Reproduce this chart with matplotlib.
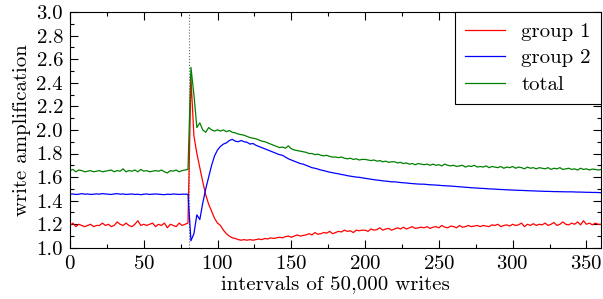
import numpy as np
import matplotlib
matplotlib.use("Agg")
import matplotlib.pyplot as plt
from matplotlib.ticker import MultipleLocator

# intervals (every 2nd interval sampled)
intervals = np.arange(0, 361, 2)

group1 = [
    1.19, 1.21, 1.18, 1.20, 1.19, 1.18, 1.19, 1.20, 1.18, 1.19,
    1.19, 1.21, 1.19, 1.20, 1.18, 1.19, 1.22, 1.20, 1.19, 1.21,
    1.19, 1.18, 1.20, 1.23, 1.19, 1.20, 1.19, 1.20, 1.21, 1.18,
    1.20, 1.19, 1.21, 1.17, 1.20, 1.19, 1.18, 1.21, 1.19, 1.20,
    1.21, 2.44, 1.95, 1.80, 1.68, 1.56, 1.45, 1.37, 1.31, 1.25,
    1.21, 1.19, 1.15, 1.12, 1.10, 1.085, 1.08, 1.07, 1.065, 1.07,
    1.065, 1.07, 1.065, 1.07, 1.075, 1.07, 1.08, 1.075, 1.085, 1.08,
    1.085, 1.09, 1.085, 1.095, 1.10, 1.09, 1.10, 1.11, 1.10, 1.105,
    1.11, 1.12, 1.11, 1.13, 1.115, 1.12, 1.13, 1.125, 1.14, 1.12,
    1.13, 1.14, 1.135, 1.15, 1.14, 1.145, 1.13, 1.15, 1.145, 1.15,
    1.15, 1.14, 1.16, 1.15, 1.155, 1.17, 1.15, 1.16, 1.165, 1.15,
    1.16, 1.17, 1.16, 1.175, 1.16, 1.17, 1.18, 1.165, 1.17, 1.175,
    1.17, 1.18, 1.165, 1.175, 1.18, 1.17, 1.19, 1.175, 1.17, 1.185,
    1.18, 1.17, 1.19, 1.175, 1.18, 1.19, 1.18, 1.185, 1.19, 1.18,
    1.19, 1.185, 1.18, 1.195, 1.19, 1.20, 1.18, 1.19, 1.195, 1.185,
    1.20, 1.19, 1.195, 1.21, 1.18, 1.20, 1.19, 1.205, 1.19, 1.20,
    1.195, 1.21, 1.19, 1.20, 1.215, 1.19, 1.20, 1.22, 1.20, 1.195,
    1.21, 1.20, 1.22, 1.195, 1.23, 1.20, 1.21, 1.195, 1.21, 1.20,
    1.20,
]

group2 = [
    1.455, 1.457, 1.453, 1.455, 1.46, 1.455, 1.457, 1.453, 1.455, 1.458,
    1.455, 1.46, 1.457, 1.455, 1.453, 1.457, 1.46, 1.455, 1.457, 1.453,
    1.455, 1.457, 1.453, 1.455, 1.451, 1.455, 1.457, 1.453, 1.455, 1.457,
    1.455, 1.453, 1.451, 1.455, 1.453, 1.457, 1.455, 1.453, 1.455, 1.455,
    1.455, 1.06, 1.12, 1.28, 1.24, 1.38, 1.50, 1.60, 1.70, 1.78,
    1.83, 1.86, 1.88, 1.89, 1.91, 1.92, 1.905, 1.90, 1.91, 1.90,
    1.895, 1.88, 1.885, 1.87, 1.86, 1.85, 1.84, 1.83, 1.82, 1.81,
    1.80, 1.79, 1.785, 1.77, 1.755, 1.745, 1.735, 1.725, 1.715, 1.71,
    1.70, 1.69, 1.68, 1.675, 1.668, 1.66, 1.655, 1.648, 1.642, 1.637,
    1.632, 1.628, 1.622, 1.618, 1.612, 1.608, 1.604, 1.60, 1.598, 1.594,
    1.59, 1.586, 1.582, 1.578, 1.575, 1.572, 1.568, 1.566, 1.563, 1.56,
    1.56, 1.557, 1.554, 1.552, 1.55, 1.547, 1.545, 1.543, 1.541, 1.54,
    1.54, 1.537, 1.535, 1.534, 1.532, 1.531, 1.528, 1.527, 1.525, 1.524,
    1.522, 1.52, 1.518, 1.516, 1.514, 1.512, 1.51, 1.508, 1.507, 1.505,
    1.504, 1.502, 1.50, 1.499, 1.498, 1.496, 1.495, 1.494, 1.492, 1.491,
    1.49, 1.489, 1.488, 1.487, 1.486, 1.485, 1.484, 1.483, 1.482, 1.481,
    1.48, 1.479, 1.479, 1.478, 1.477, 1.477, 1.476, 1.476, 1.475, 1.475,
    1.475, 1.474, 1.473, 1.473, 1.472, 1.471, 1.471, 1.47, 1.47, 1.469,
    1.468,
]

total = [
    1.655, 1.665, 1.645, 1.66, 1.655, 1.645, 1.65, 1.655, 1.645, 1.65,
    1.655, 1.645, 1.65, 1.655, 1.66, 1.645, 1.655, 1.65, 1.67, 1.645,
    1.655, 1.65, 1.66, 1.645, 1.665, 1.65, 1.655, 1.645, 1.65, 1.655,
    1.65, 1.66, 1.645, 1.635, 1.655, 1.65, 1.66, 1.645, 1.655, 1.66,
    1.665, 2.53, 2.30, 2.02, 2.06, 2.00, 1.98, 2.02, 2.00, 1.99,
    2.00, 1.99, 2.00, 1.985, 1.995, 1.98, 1.975, 1.965, 1.96, 1.955,
    1.945, 1.935, 1.93, 1.925, 1.915, 1.905, 1.90, 1.89, 1.88, 1.87,
    1.86, 1.85, 1.855, 1.845, 1.865, 1.84, 1.83, 1.825, 1.82, 1.815,
    1.81, 1.80, 1.80, 1.79, 1.795, 1.785, 1.78, 1.785, 1.775, 1.77,
    1.77, 1.765, 1.77, 1.76, 1.755, 1.76, 1.75, 1.755, 1.745, 1.75,
    1.75, 1.745, 1.74, 1.745, 1.735, 1.74, 1.73, 1.735, 1.725, 1.73,
    1.73, 1.72, 1.725, 1.715, 1.72, 1.71, 1.715, 1.705, 1.715, 1.71,
    1.705, 1.71, 1.70, 1.71, 1.70, 1.705, 1.695, 1.71, 1.70, 1.695,
    1.70, 1.69, 1.695, 1.70, 1.685, 1.695, 1.69, 1.70, 1.685, 1.69,
    1.685, 1.695, 1.68, 1.69, 1.685, 1.68, 1.69, 1.675, 1.685, 1.68,
    1.69, 1.675, 1.685, 1.68, 1.67, 1.685, 1.675, 1.68, 1.67, 1.68,
    1.675, 1.67, 1.68, 1.665, 1.675, 1.67, 1.68, 1.665, 1.67, 1.675,
    1.665, 1.67, 1.66, 1.675, 1.665, 1.67, 1.66, 1.668, 1.665, 1.66,
    1.665,
]

change_at = 81

plt.rcParams['font.family'] = 'cmr10'
plt.rcParams['mathtext.fontset'] = 'cm'
plt.rcParams['axes.formatter.use_mathtext'] = True
plt.rcParams['font.size'] = 15

fig = plt.figure(figsize=(6.03, 2.99), dpi=100)
ax = fig.add_axes([0.116, 0.171, 0.881, 0.789])

ax.axvline(change_at, color='0.4', linestyle=':', linewidth=0.8)
ax.plot(intervals, group1, color='red', lw=0.9, label='group 1')
ax.plot(intervals, group2, color='blue', lw=0.9, label='group 2')
ax.plot(intervals, total, color='green', lw=0.9, label='total')

ax.set_xlim(0, 360)
ax.set_ylim(1.0, 3.0)
ax.xaxis.set_major_locator(MultipleLocator(50))
ax.xaxis.set_minor_locator(MultipleLocator(25))
ax.yaxis.set_major_locator(MultipleLocator(0.2))
ax.yaxis.set_minor_locator(MultipleLocator(0.1))
ax.yaxis.set_major_formatter(plt.FormatStrFormatter('%.1f'))
ax.tick_params(which='both', direction='in', top=True, right=True)
ax.tick_params(which='major', length=6, width=0.8, pad=5)
ax.tick_params(which='minor', length=3, width=0.8)

ax.set_xlabel('intervals of 50,000 writes', labelpad=2)
ax.set_ylabel('write amplification', labelpad=4)

leg = ax.legend(loc='upper right', borderaxespad=0, fancybox=False,
                framealpha=1, edgecolor='black', handlelength=1.9,
                labelspacing=0.38, borderpad=0.5)
leg.get_frame().set_linewidth(0.8)

fig.savefig('out.png', dpi=100)
